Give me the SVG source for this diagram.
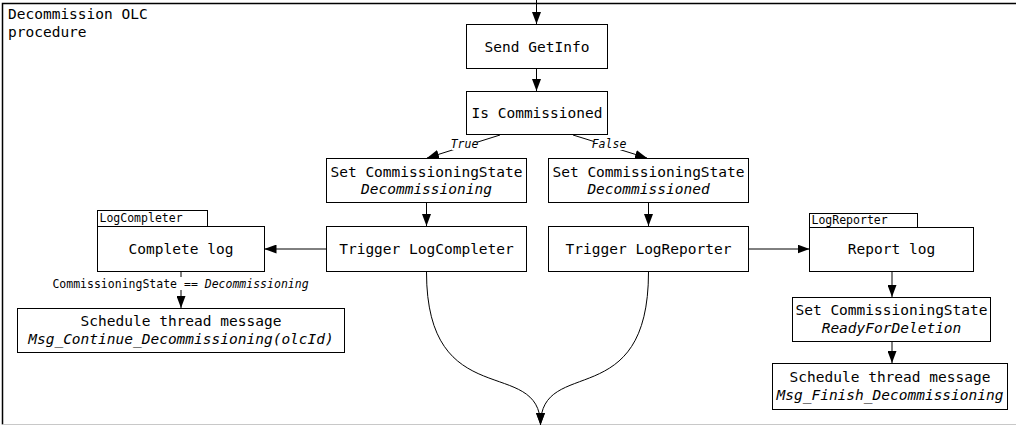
<svg xmlns="http://www.w3.org/2000/svg" width="1016" height="426" viewBox="0 0 1016 426">
  <style>
    .box { fill: #ffffff; stroke: #000000; stroke-width: 1; }
    .t { font-family: "DejaVu Sans Mono", "Liberation Mono", monospace; font-size: 14.5px; fill: #000000; }
    .c { text-anchor: middle; dominant-baseline: central; }
    .it { font-style: italic; }
    .tab { font-family: "DejaVu Sans Mono", "Liberation Mono", monospace; font-size: 11.5px; fill: #000000; }
    .lbl { font-family: "DejaVu Sans Mono", "Liberation Mono", monospace; font-size: 11.5px; fill: #000000; text-anchor: middle; dominant-baseline: central; }
    .edge { fill: none; stroke: #000000; stroke-width: 1; marker-end: url(#arrow); }
  </style>
  <defs>
    <marker id="arrow" markerUnits="userSpaceOnUse" markerWidth="12" markerHeight="9" refX="12" refY="4.5" orient="auto">
      <path d="M0,0 L12,4.5 L0,9 z" fill="#000000"/>
    </marker>
  </defs>

  <rect width="1016" height="426" fill="#ffffff"/>

  <!-- procedure frame -->
  <g id="frame">
    <path d="M2.5,424.5 L2.5,3.5 L1016,3.5" fill="none" stroke="#000000" stroke-width="1.5"/>
    <line x1="2.5" y1="424.5" x2="1016" y2="424.5" stroke="#c8c8c8" stroke-width="1"/>
    <text class="t" x="8" y="19">Decommission OLC</text>
    <text class="t" x="8" y="37">procedure</text>
  </g>

  <!-- connectors -->
  <g id="connectors">
    <line class="edge" x1="536.5" y1="0" x2="536.5" y2="24"/>
    <line class="edge" x1="536.5" y1="69" x2="536.5" y2="91"/>
    <line class="edge" x1="500" y1="135" x2="427" y2="158"/>
    <line class="edge" x1="573" y1="135" x2="647" y2="158"/>
    <line class="edge" x1="426.5" y1="203" x2="426.5" y2="226"/>
    <line class="edge" x1="648.5" y1="203" x2="648.5" y2="226"/>
    <line class="edge" x1="326.5" y1="249" x2="264.5" y2="249"/>
    <line class="edge" x1="748.5" y1="249" x2="809.5" y2="249"/>
    <line class="edge" x1="181" y1="272" x2="181" y2="308"/>
    <line class="edge" x1="892" y1="272" x2="892" y2="297"/>
    <line class="edge" x1="892" y1="342" x2="892" y2="363"/>
    <path class="edge" d="M426.5,272 C426.5,415 540.5,355 540.5,425"/>
    <path class="edge" d="M648.5,272 C648.5,415 540.5,355 540.5,425"/>
    <!-- edge labels -->
    <rect x="452" y="138" width="25" height="12" fill="#ffffff"/>
    <text class="lbl it" x="464.5" y="144">True</text>
    <rect x="594" y="138" width="30" height="12" fill="#ffffff"/>
    <text class="lbl it" x="609" y="144">False</text>
    <rect x="50" y="277" width="262" height="13" fill="#ffffff"/>
    <text class="lbl" x="180.5" y="283.5">CommissioningState == <tspan class="it">Decommissioning</tspan></text>
  </g>

  <g id="send-getinfo">
    <rect class="box" x="466.5" y="24.5" width="141" height="44"/>
    <text class="t c" x="537" y="46.5">Send GetInfo</text>
  </g>

  <g id="is-commissioned">
    <rect class="box" x="466.5" y="91.5" width="141" height="43"/>
    <text class="t c" x="537" y="113">Is Commissioned</text>
  </g>

  <g id="set-decommissioning">
    <rect class="box" x="326.5" y="158.5" width="200" height="44"/>
    <text class="t c" x="426.5" y="172">Set CommissioningState</text>
    <text class="t c it" x="426.5" y="189">Decommissioning</text>
  </g>

  <g id="set-decommissioned">
    <rect class="box" x="548.5" y="158.5" width="200" height="44"/>
    <text class="t c" x="648.5" y="172">Set CommissioningState</text>
    <text class="t c it" x="648.5" y="189">Decommissioned</text>
  </g>

  <g id="trigger-logcompleter">
    <rect class="box" x="326.5" y="226.5" width="200" height="45"/>
    <text class="t c" x="426.5" y="249">Trigger LogCompleter</text>
  </g>

  <g id="trigger-logreporter">
    <rect class="box" x="548.5" y="226.5" width="200" height="45"/>
    <text class="t c" x="648.5" y="249">Trigger LogReporter</text>
  </g>

  <g id="complete-log">
    <rect class="box" x="97.5" y="210.5" width="110" height="16"/>
    <text class="tab" x="99.5" y="222">LogCompleter</text>
    <rect class="box" x="97.5" y="226.5" width="167" height="45"/>
    <text class="t c" x="181" y="249">Complete log</text>
  </g>

  <g id="schedule-continue">
    <rect class="box" x="17.5" y="308.5" width="327" height="44"/>
    <text class="t c" x="181" y="321">Schedule thread message</text>
    <text class="t c it" x="181" y="339">Msg_Continue_Decommissioning(olcId)</text>
  </g>

  <g id="report-log">
    <rect class="box" x="809.5" y="213.5" width="108" height="14"/>
    <text class="tab" x="811.5" y="224">LogReporter</text>
    <rect class="box" x="809.5" y="227.5" width="164" height="44"/>
    <text class="t c" x="891.5" y="249">Report log</text>
  </g>

  <g id="set-readyfordeletion">
    <rect class="box" x="792.5" y="297.5" width="198" height="44"/>
    <text class="t c" x="891.5" y="310">Set CommissioningState</text>
    <text class="t c it" x="891.5" y="328">ReadyForDeletion</text>
  </g>

  <g id="schedule-finish">
    <rect class="box" x="772.5" y="363.5" width="235" height="46"/>
    <text class="t c" x="890" y="377">Schedule thread message</text>
    <text class="t c it" x="890" y="395">Msg_Finish_Decommissioning</text>
  </g>
</svg>
